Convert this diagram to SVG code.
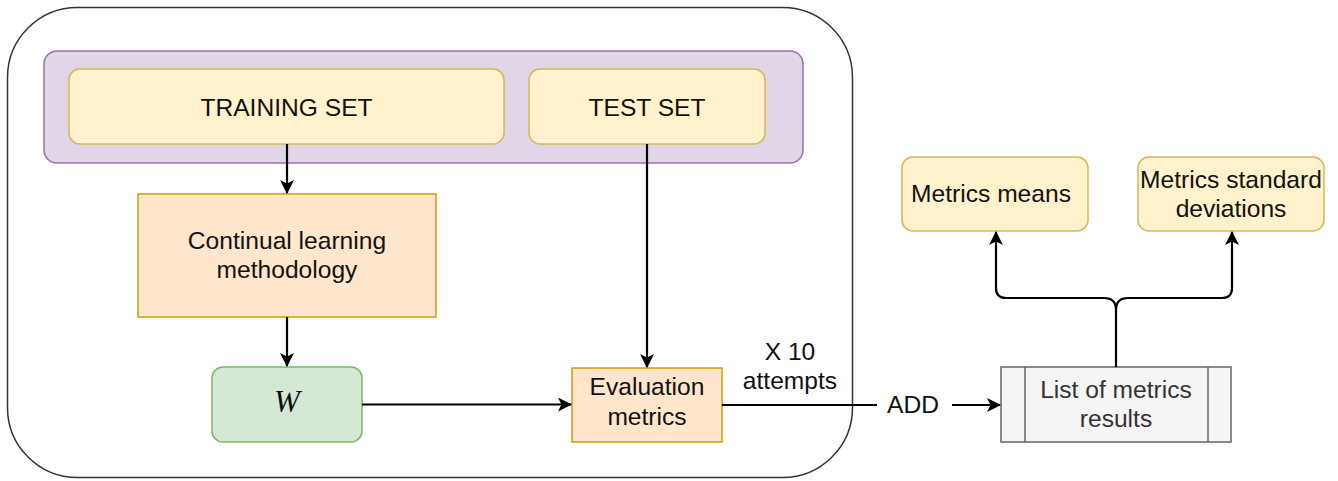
<svg xmlns="http://www.w3.org/2000/svg" width="1338" height="481" viewBox="0 0 1338 481">
  <defs>
    <marker id="arrow" viewBox="0 0 14 14" refX="13" refY="7" markerWidth="14" markerHeight="14" markerUnits="userSpaceOnUse" orient="auto">
      <path d="M0 0 L14 7 L0 14 L3.5 7 Z" fill="#000"/>
    </marker>
    <style>
      .lbl { font-family: "Liberation Sans", Arial, Helvetica, sans-serif; font-size: 24.6px; fill: #111; text-anchor: middle; }
      .conn { fill: none; stroke: #000; stroke-width: 2.2; }
      .arr { marker-end: url(#arrow); }
      .yellow { fill: #fff2cc; stroke: #d6b656; stroke-width: 1.5; }
      .orange { fill: #ffe6cc; stroke: #d79b00; stroke-width: 1.5; }
    </style>
  </defs>
  <rect width="1338" height="481" fill="#fff"/>

  <!-- repeated-run frame -->
  <g id="frame">
    <rect x="7.5" y="7.5" width="845" height="470" rx="70" ry="70" fill="none" stroke="#333" stroke-width="1.5"/>
  </g>

  <!-- dataset split -->
  <g id="dataset">
    <rect x="44" y="51" width="759" height="112" rx="13" ry="13" fill="#e1d5e7" stroke="#9673a6" stroke-width="1.5"/>
  </g>
  <g id="training-set">
    <rect class="yellow" x="69" y="69" width="435" height="75" rx="11" ry="11"/>
    <text class="lbl" x="286.5" y="116">TRAINING SET</text>
  </g>
  <g id="test-set">
    <rect class="yellow" x="529" y="69" width="236" height="75" rx="11" ry="11"/>
    <text class="lbl" x="647" y="116">TEST SET</text>
  </g>

  <g id="continual-learning">
    <rect class="orange" x="138" y="194" width="298" height="123"/>
    <text class="lbl" x="287" y="249">Continual learning</text>
    <text class="lbl" x="287" y="278">methodology</text>
  </g>

  <g id="weights">
    <rect x="212" y="367" width="150" height="75" rx="11" ry="11" fill="#d5e8d4" stroke="#82b366" stroke-width="1.5"/>
    <text x="287" y="412" font-family="'Liberation Serif', 'Times New Roman', serif" font-style="italic" font-size="31" text-anchor="middle" fill="#111">W</text>
  </g>

  <g id="evaluation">
    <rect class="orange" x="572" y="368" width="150" height="74"/>
    <text class="lbl" x="647" y="395">Evaluation</text>
    <text class="lbl" x="647" y="425">metrics</text>
  </g>

  <g id="results-list">
    <rect x="1001" y="367" width="230" height="75" fill="#f5f5f5" stroke="#666" stroke-width="1.5"/>
    <line x1="1025" y1="367" x2="1025" y2="442" stroke="#666" stroke-width="1.5"/>
    <line x1="1208" y1="367" x2="1208" y2="442" stroke="#666" stroke-width="1.5"/>
    <text class="lbl" x="1116" y="398" style="fill:#333">List of metrics</text>
    <text class="lbl" x="1116" y="427" style="fill:#333">results</text>
  </g>

  <g id="metrics-means">
    <rect class="yellow" x="902" y="157" width="186" height="74" rx="11" ry="11"/>
    <text class="lbl" x="991" y="202">Metrics means</text>
  </g>

  <g id="metrics-std">
    <rect class="yellow" x="1138" y="157" width="186" height="74" rx="11" ry="11"/>
    <text class="lbl" x="1231" y="188">Metrics standard</text>
    <text class="lbl" x="1231" y="217">deviations</text>
  </g>

  <!-- connectors -->
  <g id="connectors">
    <path class="conn arr" d="M287 144 V193"/>
    <path class="conn arr" d="M647 144 V367"/>
    <path class="conn arr" d="M287 317 V366"/>
    <path class="conn arr" d="M362 404.5 H571"/>
    <path class="conn" d="M722 405 H877"/>
    <path class="conn arr" d="M952 405 H1000"/>
    <path class="conn arr" d="M1116 367 V310 Q1116 298 1104 298 H1006 Q996 298 996 288 V232"/>
    <path class="conn arr" d="M1116 310 Q1116 298 1128 298 H1222 Q1232 298 1232 288 V232"/>
    <text class="lbl" x="790" y="360">X 10</text>
    <text class="lbl" x="790" y="389">attempts</text>
    <text class="lbl" x="913" y="413">ADD</text>
  </g>
</svg>
